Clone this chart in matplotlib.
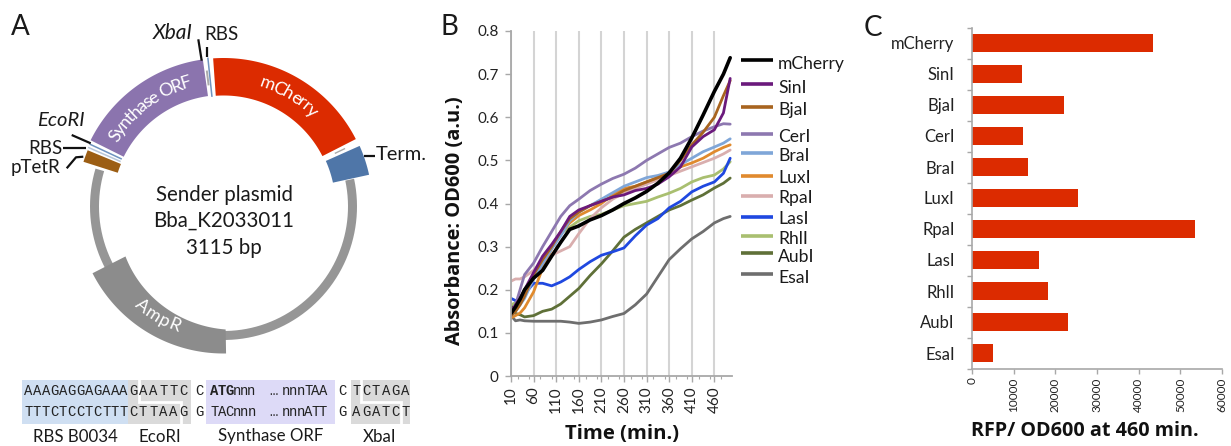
import numpy as np
import matplotlib
matplotlib.use("Agg")
import matplotlib.pyplot as plt
from matplotlib.patches import Polygon, Rectangle
from matplotlib.textpath import TextPath
from matplotlib.font_manager import FontProperties
from matplotlib.ticker import MultipleLocator

plt.rcParams['font.family'] = ['Lato', 'DejaVu Sans']

# ---------- data ----------
times = [10,20,30,40,60,80,100,120,140,160,185,210,235,260,285,310,335,360,385,410,435,460,480,495]
mCherry = [.145,.16,.178,.20,.227,.245,.278,.31,.34,.348,.362,.372,.385,.40,.413,.428,.447,.471,.505,.552,.605,.66,.70,.738]
SinI = [.15,.165,.18,.20,.24,.278,.305,.335,.37,.385,.395,.405,.415,.42,.43,.435,.445,.462,.485,.531,.555,.571,.61,.69]
BjaI = [.14,.15,.165,.185,.235,.27,.30,.335,.365,.38,.395,.405,.415,.43,.44,.45,.46,.47,.50,.536,.565,.60,.65,.685]
CerI = [.14,.165,.20,.235,.262,.30,.335,.37,.395,.41,.43,.445,.458,.468,.482,.50,.515,.53,.54,.555,.568,.578,.585,.584]
BraI = [.14,.15,.165,.18,.225,.26,.295,.325,.36,.38,.395,.41,.425,.44,.45,.46,.465,.473,.49,.505,.52,.531,.54,.55]
LuxI = [.135,.14,.146,.158,.195,.25,.295,.33,.355,.372,.385,.40,.42,.435,.44,.45,.46,.473,.485,.494,.505,.52,.53,.536]
RpaI = [.22,.225,.225,.23,.245,.265,.28,.29,.30,.33,.365,.39,.41,.425,.435,.445,.455,.465,.475,.485,.495,.505,.515,.524]
LasI = [.18,.175,.175,.19,.215,.215,.209,.218,.23,.247,.265,.28,.288,.297,.325,.35,.365,.39,.405,.427,.44,.45,.47,.505]
RhlI = [.165,.17,.18,.195,.23,.27,.30,.33,.345,.36,.37,.375,.385,.395,.40,.405,.415,.424,.435,.45,.46,.466,.48,.497]
AubI = [.165,.145,.142,.137,.14,.15,.155,.167,.185,.203,.233,.26,.29,.322,.34,.355,.37,.385,.395,.408,.42,.436,.447,.459]
EsaI = [.14,.128,.13,.128,.127,.127,.127,.127,.125,.122,.125,.13,.138,.145,.165,.19,.23,.27,.295,.318,.335,.355,.365,.37]

draw_order = ['EsaI','AubI','RhlI','LasI','RpaI','LuxI','BraI','CerI','BjaI','SinI','mCherry']
legend_names = ['mCherry','SinI','BjaI','CerI','BraI','LuxI','RpaI','LasI','RhlI','AubI','EsaI']
series = dict(mCherry=mCherry,SinI=SinI,BjaI=BjaI,CerI=CerI,BraI=BraI,LuxI=LuxI,RpaI=RpaI,LasI=LasI,RhlI=RhlI,AubI=AubI,EsaI=EsaI)
colors = dict(mCherry='#000000',SinI='#6B1A7C',BjaI='#A8641F',CerI='#8D78B0',BraI='#7FA6D8',
              LuxI='#E08A2E',RpaI='#D9AEAE',LasI='#1F48E0',RhlI='#A9BF70',AubI='#5F7038',EsaI='#6E6E6E')
legend_line_y = [60,84,107,134,153,176,196,217,236,253,274]
legend_text_y = [64,88,110,137,156,178,198,219,239,257,278]

rfp_names = ['mCherry','SinI','BjaI','CerI','BraI','LuxI','RpaI','LasI','RhlI','AubI','EsaI']
rfp_values = [43400,12000,22100,12300,13400,25400,53500,16000,18200,23000,5000]

W, H = 1231, 446
fig = plt.figure(figsize=(W/100, H/100), dpi=100)

def axpx(l, t, r, b):
    return fig.add_axes([l/W, 1-b/H, (r-l)/W, (b-t)/H])

# ---------- panel B ----------
axB = axpx(511, 31, 732, 376)
axB.set_xlim(10, 499)
axB.set_ylim(0, 0.8)
axB.set_xticks(np.arange(10, 461, 50))
axB.xaxis.set_minor_locator(MultipleLocator(25))
axB.set_yticks(np.arange(0, 0.81, 0.1))
axB.set_yticklabels(['0','0.1','0.2','0.3','0.4','0.5','0.6','0.7','0.8'], fontsize=11, color='#222222')
axB.set_xticklabels([str(t) for t in range(10, 461, 50)], rotation=90, fontsize=11, color='#222222')
axB.grid(axis='x', which='major', color='#d4d4d4', lw=1.5)
axB.set_axisbelow(True)
for s in ['top','right']:
    axB.spines[s].set_visible(False)
for s in ['left','bottom']:
    axB.spines[s].set_color('#a8a8a8'); axB.spines[s].set_linewidth(1.3)
axB.tick_params(which='major', color='#a8a8a8', length=4, width=1)
axB.tick_params(axis='y', which='major', pad=5)
axB.tick_params(axis='x', which='major', pad=3.5)
axB.tick_params(which='minor', color='#a8a8a8', length=2.5, width=0.8)
axB.patch.set_alpha(0)
for n in draw_order:
    axB.plot(times, series[n], color=colors[n], lw=2.6 if n == 'mCherry' else 2.0, solid_capstyle='round')

# ---------- panel C ----------
axC = axpx(972, 27.5, 1222, 368.5)
ypos = np.arange(len(rfp_names))
axC.barh(ypos, rfp_values, height=0.57, color='#DC2B00')
axC.set_ylim(len(rfp_names)-0.5, -0.5)
axC.set_xlim(0, 60000)
axC.set_yticks(np.arange(len(rfp_names)+1) - 0.5)
axC.set_yticklabels([])
axC.set_yticks(ypos, minor=True)
axC.set_yticklabels(rfp_names, minor=True, fontsize=12, color='#222222')
axC.set_xticks(np.arange(0, 60001, 10000))
axC.set_xticklabels([str(v) for v in range(0, 60001, 10000)], rotation=90, fontsize=8.5, color='#222222')
for s in ['top','right']:
    axC.spines[s].set_visible(False)
for s in ['left','bottom']:
    axC.spines[s].set_color('#a8a8a8'); axC.spines[s].set_linewidth(1.2)
axC.tick_params(color='#a8a8a8', length=3.5, width=1, pad=3)
axC.tick_params(axis='y', which='minor', length=0, pad=12.5)

# ---------- overlay in pixel coordinates ----------
ov = fig.add_axes([0, 0, 1, 1], zorder=5)
ov.set_xlim(0, W); ov.set_ylim(H, 0); ov.axis('off'); ov.patch.set_alpha(0)

cx, cy = 223.5, 206.5
TXT = '#1a1a1a'

def pt(a, r):
    t = np.radians(a)
    return cx + r*np.cos(t), cy - r*np.sin(t)

def ring(a0, a1, r0, r1, color, z=2):
    a = np.linspace(a0, a1, 90)
    r_in = np.linspace(r0[0], r0[1], 90) if np.ndim(r0) else np.full(90, r0)
    xo, yo = pt(a, r1)
    xi, yi = pt(a[::-1], r_in[::-1])
    ov.add_patch(Polygon(np.c_[np.r_[xo, xi], np.r_[yo, yi]], closed=True, fc=color, ec='none', zorder=z))

def arc_text(s, r, a_start, a_end, size, color='white'):
    fp = FontProperties(family='Lato', size=size)
    bar = TextPath((0, 0), '|', prop=fp).get_extents().x1
    def w(p):
        return TextPath((0, 0), p + '|', prop=fp).get_extents().x1 - bar
    total = w(s)
    for i, ch in enumerate(s):
        if ch == ' ':
            continue
        f = 0.5*(w(s[:i]) + w(s[:i+1]))/total
        a = a_start + (a_end - a_start)*f
        x, y = pt(a, r)
        rot = a - 90 if a_end < a_start else a + 90
        ov.text(x, y, ch, rotation=rot, rotation_mode='anchor', ha='center', va='center',
                fontsize=size, color=color, zorder=4)

# thin backbone
ring(163.5, 372, 124.5, 133.5, '#969696')
# features
ring(27, 94, 111, 148.5, '#DC2B00')
ring(12.3, 24, 112, 149, '#4F76A8')
ring(98, 153.5, 111.5, 148.5, '#8B74AE')
ring(157.5, 162.3, 111, 147, '#9C5E14')
ring(207, 271, (110, 123), 147, '#8C8C8C')
# small marks in the gaps
for a, c in [(155, '#6F93BF'), (156.4, '#B8C6D8')]:
    x, y = pt(a, np.array([113, 147]))
    ov.plot(x, y, color=c, lw=1.1, zorder=3)
x, y = pt(96.0, np.array([111, 149]))
ov.plot(x, y, color='#6F93BF', lw=1.1, zorder=3)
x, y = pt(97.0, np.array([123, 136]))
ov.plot(x, y, color='#AAAAAA', lw=1.4, zorder=3)
x, y = pt(25.5, np.array([124, 134]))
ov.plot(x, y, color='#AAAAAA', lw=1.0, zorder=3)

arc_text('mCherry', 130, 73, 45.5, 13)
arc_text('Synthase ORF', 129, 148.7, 105, 13)
arc_text('AmpR', 129, 228, 250, 13)

# leader lines
for xs, ys in [((198.3, 201.7), (39.3, 60.7)), ((207.3, 207.3), (46.7, 56.7)),
               ((71.7, 90.7), (135, 143.3)), ((62.7, 86), (147.7, 147.7)),
               ((66.7, 76, 83.3), (168.3, 157.3, 156.7)), ((364, 375), (156, 156))]:
    ov.plot(xs, ys, color='#111111', lw=1.6, solid_capstyle='butt', zorder=3)

ov.text(172.5, 33, 'XbaI', fontsize=15, style='italic', color=TXT, ha='center', va='center')
ov.text(221.5, 34, 'RBS', fontsize=13.5, color=TXT, ha='center', va='center')
ov.text(61, 121, 'EcoRI', fontsize=14.5, style='italic', color=TXT, ha='center', va='center')
ov.text(45.5, 148, 'RBS', fontsize=13.5, color=TXT, ha='center', va='center')
ov.text(35.5, 168, 'pTetR', fontsize=13.5, color=TXT, ha='center', va='center')
ov.text(401, 155, 'Term.', fontsize=14.5, color=TXT, ha='center', va='center')

for txt, y in [('Sender plasmid', 195), ('Bba_K2033011', 221), ('3115 bp', 248)]:
    ov.text(224, y, txt, fontsize=14.8, color=TXT, ha='center', va='center')

for txt, x, y in [('A', 20.5, 27), ('B', 449, 27), ('C', 873, 28)]:
    ov.text(x, y, txt, fontsize=20, color=TXT, ha='center', va='center')

# sequence table
for x0, x1, c in [(21.7, 128.3, '#CFDFF2'), (128.3, 191, '#DADADA'), (206, 335, '#DDDAF7'), (350.7, 410, '#DADADA')]:
    ov.add_patch(Rectangle((x0, 380), x1-x0, 44, fc=c, ec='none', zorder=1))
for xs, ys in [((138.5, 138.5, 180.5, 180.5), (380, 402, 402, 424)),
               ((361, 361, 400.5, 400.5), (380, 402, 402, 424))]:
    ov.plot(xs, ys, color='white', lw=2, solid_joinstyle='miter', zorder=1.5)

MONO = 'Liberation Mono'
def seq(s, x0, step, y, weight='normal'):
    for i, ch in enumerate(s):
        ov.text(x0 + i*step, y, ch, family=MONO, fontsize=10, weight=weight, color='#222222',
                ha='center', va='center', zorder=3)

for y, rbs, eco, c1, orf_a, orf_b, c2, xba in [
    (391, 'AAAGAGGAGAAA', 'GAATTC', 'C', 'nnn', 'nnnTAA', 'C', 'TCTAGA'),
    (412, 'TTTCTCCTCTTT', 'CTTAAG', 'G', 'TACnnn', 'nnnATT', 'G', 'AGATCT')]:
    seq(rbs, 28.5, 8.65, y)
    seq(eco, 133, 10.1, y)
    seq(c1, 199, 10, y)
    if y == 391:
        seq('ATG', 214.5, 7.4, y, weight='bold')
        seq(orf_a, 236.5, 7.4, y)
    else:
        seq(orf_a, 214.5, 7.4, y)
    seq('…', 273, 7.4, y)
    seq(orf_b, 286, 7.4, y)
    seq(c2, 342.5, 10, y)
    seq(xba, 356.5, 9.8, y)

for txt, x in [('RBS B0034', 75), ('EcoRI', 160), ('Synthase ORF', 271), ('XbaI', 380)]:
    ov.text(x, 436.5, txt, fontsize=12.2, color=TXT, ha='center', va='center')

# legend of panel B
for n, yl, yt in zip(legend_names, legend_line_y, legend_text_y):
    ov.plot([740.5, 773], [yl, yl], color=colors[n], lw=2.6, solid_capstyle='butt')
    ov.text(778, yt, n, fontsize=12.6, color=TXT, ha='left', va='center')

# axis titles
TITLE_FONT = ['Open Sans', 'Lato']
ov.text(455, 221, 'Absorbance: OD600 (a.u.)', rotation=90, fontsize=14.4, weight='bold', family=TITLE_FONT,
        color='#111111', ha='center', va='center')
ov.text(622, 434.5, 'Time (min.)', fontsize=14.6, weight='bold', family=TITLE_FONT, color='#111111', ha='center', va='center')
ov.text(1085, 431, 'RFP/ OD600 at 460 min.', fontsize=14.2, weight='bold', family=TITLE_FONT, color='#111111', ha='center', va='center')

fig.savefig('out.png', dpi=100)
